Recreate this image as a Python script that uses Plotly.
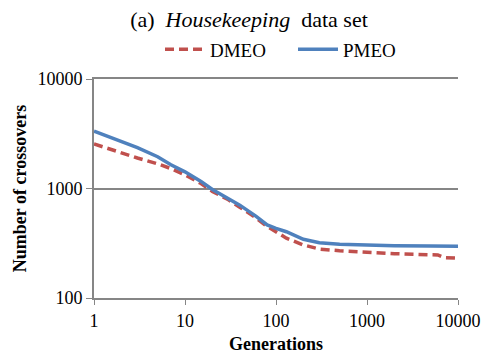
import plotly.graph_objects as go

# Generations sampled along the run (log scale)
generations = [1, 2, 3, 5, 7, 10, 15, 20, 30, 40, 60, 80, 100, 130, 200, 300,
               500, 1000, 2000, 5000, 6000, 7000, 10000]

# Number of crossovers per method
dmeo = [2550, 2100, 1900, 1680, 1520, 1330, 1110, 940, 790, 675, 540, 450, 405,
        352, 305, 280, 270, 260, 254, 248, 247, 234, 231]
pmeo = [3350, 2700, 2360, 1950, 1650, 1420, 1160, 980, 810, 705, 560, 465, 433,
        403, 344, 320, 310, 303, 300, 298, 298, 297, 297]

x_ticks = [1, 10, 100, 1000, 10000]
y_ticks = [100, 1000, 10000]

serif = "Liberation Serif, Times New Roman, serif"
axis_grey = "#868686"
fsize = 18

fig = go.Figure()
fig.add_trace(go.Scatter(
    x=generations, y=dmeo, name="DMEO", mode="lines",
    line=dict(color="#C0504D", width=3.5, dash="9px,5px"),
))
fig.add_trace(go.Scatter(
    x=generations, y=pmeo, name="PMEO", mode="lines",
    line=dict(color="#4F81BD", width=3.5),
))

fig.update_layout(
    width=485, height=358,
    margin=dict(l=94, r=27, t=79, b=60),
    paper_bgcolor="white", plot_bgcolor="white",
    font=dict(family=serif, size=fsize, color="black"),
    title=dict(
        text="(a)  <i>Housekeeping</i>  data set",
        x=249 / 485, xanchor="center", y=1 - 19 / 358, yanchor="middle",
        font=dict(family=serif, size=22, color="black"),
    ),
    legend=dict(
        orientation="h", x=(160 - 94) / 364, xanchor="left",
        y=1.135, yanchor="middle",
        font=dict(family=serif, size=19, color="black"),
        itemwidth=40, entrywidth=78, traceorder="normal",
        bgcolor="rgba(0,0,0,0)",
    ),
    showlegend=True,
)

fig.update_xaxes(
    type="log", range=[0, 4], tickvals=x_ticks,
    ticktext=[str(v) for v in x_ticks], automargin=False,
    showgrid=False, zeroline=False,
    showline=True, linecolor=axis_grey, linewidth=2, mirror=True,
    ticks="outside", ticklen=5, tickcolor=axis_grey, tickwidth=1,
    tickfont=dict(family=serif, size=fsize, color="black"),
    title=dict(text="<b>Generations</b>", standoff=8,
               font=dict(family=serif, size=fsize, color="black")),
)
fig.update_yaxes(
    type="log", range=[2, 4], tickvals=y_ticks,
    ticktext=[str(v) for v in y_ticks], automargin=False,
    showgrid=True, gridcolor=axis_grey, gridwidth=1.5, zeroline=False,
    showline=True, linecolor=axis_grey, linewidth=2,
    ticks="outside", ticklen=6, tickcolor=axis_grey, tickwidth=1,
    tickfont=dict(family=serif, size=fsize, color="black"),
    title=dict(text="<b>Number of crossovers</b>", standoff=6,
               font=dict(family=serif, size=fsize, color="black")),
)

fig.write_html("out.html")
